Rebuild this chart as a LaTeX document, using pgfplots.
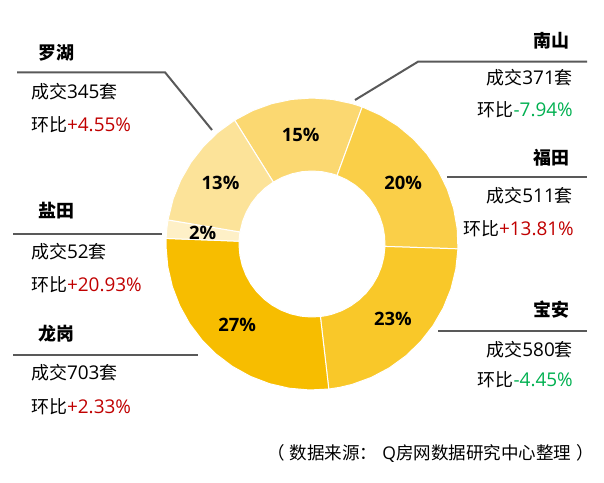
\documentclass[border=0pt]{standalone}
\usepackage{pgfplots}
\pgfplotsset{compat=1.18}
\usepgfplotslibrary{polar}
\usepackage{fontspec}
\setmainfont{Noto Sans CJK SC}
\newfontfamily\latf{Open Sans}
\newcommand\lat{\latf\fontsize{19}{20}\selectfont}
\definecolor{cA}{RGB}{251,216,113}
\definecolor{cB}{RGB}{250,207,72}
\definecolor{cC}{RGB}{249,200,41}
\definecolor{cD}{RGB}{247,189,0}
\definecolor{cE}{RGB}{254,240,199}
\definecolor{cF}{RGB}{252,227,153}
\definecolor{up}{RGB}{192,0,0}
\definecolor{down}{RGB}{0,176,80}
\definecolor{lead}{RGB}{89,89,89}
% counts: 南山 371, 福田 511, 宝安 580, 龙岗 703, 盐田 52, 罗湖 345 (total 2562)
% slice boundaries (degrees, clockwise from 122): 122, 69.9, 358.1, 276.6, 177.8, 170.5, 122
\begin{document}
\begin{tikzpicture}[x=1bp,y=1bp]
\useasboundingbox (0,0) rectangle (604,-483);
\begin{polaraxis}[at={(312,-244)}, anchor=center, hide axis, scale only axis,
  width=292bp, height=292bp, xmin=0, xmax=360, ymin=0, ymax=146, clip=false]
% 南山 15%
\addplot[fill=cA, draw=white, line width=1bp] coordinates {
 (122,146) (114,146) (106,146) (98,146) (90,146) (82,146) (74,146) (69.9,146)
 (69.9,73) (74,73) (82,73) (90,73) (98,73) (106,73) (114,73) (122,73)} -- cycle;
% 福田 20%
\addplot[fill=cB, draw=white, line width=1bp] coordinates {
 (69.9,146) (62,146) (54,146) (46,146) (38,146) (30,146) (22,146) (14,146) (6,146) (358.1,146)
 (358.1,73) (6,73) (14,73) (22,73) (30,73) (38,73) (46,73) (54,73) (62,73) (69.9,73)} -- cycle;
% 宝安 23%
\addplot[fill=cC, draw=white, line width=1bp] coordinates {
 (358.1,146) (350,146) (342,146) (334,146) (326,146) (318,146) (310,146) (302,146) (294,146) (286,146) (281,146) (276.6,146)
 (276.6,73) (281,73) (286,73) (294,73) (302,73) (310,73) (318,73) (326,73) (334,73) (342,73) (350,73) (358.1,73)} -- cycle;
% 龙岗 27%
\addplot[fill=cD, draw=white, line width=1bp] coordinates {
 (276.6,146) (269,146) (261,146) (253,146) (245,146) (237,146) (229,146) (221,146) (213,146) (205,146) (197,146) (189,146) (181,146) (177.8,146)
 (177.8,73) (181,73) (189,73) (197,73) (205,73) (213,73) (221,73) (229,73) (237,73) (245,73) (253,73) (261,73) (269,73) (276.6,73)} -- cycle;
% 盐田 2%
\addplot[fill=cE, draw=white, line width=1bp] coordinates {
 (177.8,146) (174,146) (170.5,146) (170.5,73) (174,73) (177.8,73)} -- cycle;
% 罗湖 13%
\addplot[fill=cF, draw=white, line width=1bp] coordinates {
 (170.5,146) (162,146) (154,146) (146,146) (138,146) (130,146) (122,146)
 (122,73) (130,73) (138,73) (146,73) (154,73) (162,73) (170.5,73)} -- cycle;
% percentage labels
\addplot[only marks, mark=*, mark size=0pt, mark options={draw=none, fill=none},
  point meta=explicit symbolic, nodes near coords,
  nodes near coords style={font=\latf\fontsize{18.5}{20}\selectfont\bfseries, anchor=center, text=black, inner sep=0pt}]
  coordinates {(95.95,110)[15\%] (34,110)[20\%] (317.35,110)[23\%] (227.2,110)[27\%] (174.15,110)[2\%] (146.25,110)[13\%]};
\end{polaraxis}
\tikzset{lab/.style={inner sep=0pt, font=\fontsize{18}{20}\selectfont},
         hd/.style={inner sep=0pt, font=\fontsize{18}{20}\selectfont\bfseries}}
% leader lines
\draw[lead, line width=2bp] (17,-72.3) -- (165,-72.3) -- (212,-130);
\draw[lead, line width=2bp] (587,-61.7) -- (418,-61.7) -- (355,-100);
\draw[lead, line width=2bp] (447,-176.7) -- (587,-176.7);
\draw[lead, line width=2bp] (438,-330.7) -- (587,-330.7);
\draw[lead, line width=2bp] (13,-234) -- (162,-234);
\draw[lead, line width=2bp] (13,-355) -- (198,-355);
% left texts
\node[hd, anchor=west] at (38,-53) {罗湖};
\node[lab, anchor=west] at (31,-91.7) {成交{\lat 345}套};
\node[lab, anchor=west] at (31,-125) {环比\textcolor{up}{\lat +4.55\%}};
\node[hd, anchor=west] at (38,-210.7) {盐田};
\node[lab, anchor=west] at (31,-251.7) {成交{\lat 52}套};
\node[lab, anchor=west] at (31,-285) {环比\textcolor{up}{\lat +20.93\%}};
\node[hd, anchor=west] at (38,-333.3) {龙岗};
\node[lab, anchor=west] at (31,-372.7) {成交{\lat 703}套};
\node[lab, anchor=west] at (31,-406.7) {环比\textcolor{up}{\lat +2.33\%}};
% right texts
\node[hd, anchor=east] at (570,-40.7) {南山};
\node[lab, anchor=east] at (573,-78) {成交{\lat 371}套};
\node[lab, anchor=east] at (573,-110) {环比\textcolor{down}{\lat -7.94\%}};
\node[hd, anchor=east] at (570,-158) {福田};
\node[lab, anchor=east] at (573,-195.7) {成交{\lat 511}套};
\node[lab, anchor=east] at (574,-228.3) {环比\textcolor{up}{\lat +13.81\%}};
\node[hd, anchor=east] at (570,-310) {宝安};
\node[lab, anchor=east] at (573,-350) {成交{\lat 580}套};
\node[lab, anchor=east] at (573,-379.3) {环比\textcolor{down}{\lat -4.45\%}};
% footer
\node[inner sep=0pt, anchor=west, font=\fontsize{17.6}{19}\selectfont] at (267,-453) {（\hspace{5bp}数据来源：\hspace{5bp}{\latf Q}房网数据研究中心整理\hspace{5bp}）};
\end{tikzpicture}
\end{document}
